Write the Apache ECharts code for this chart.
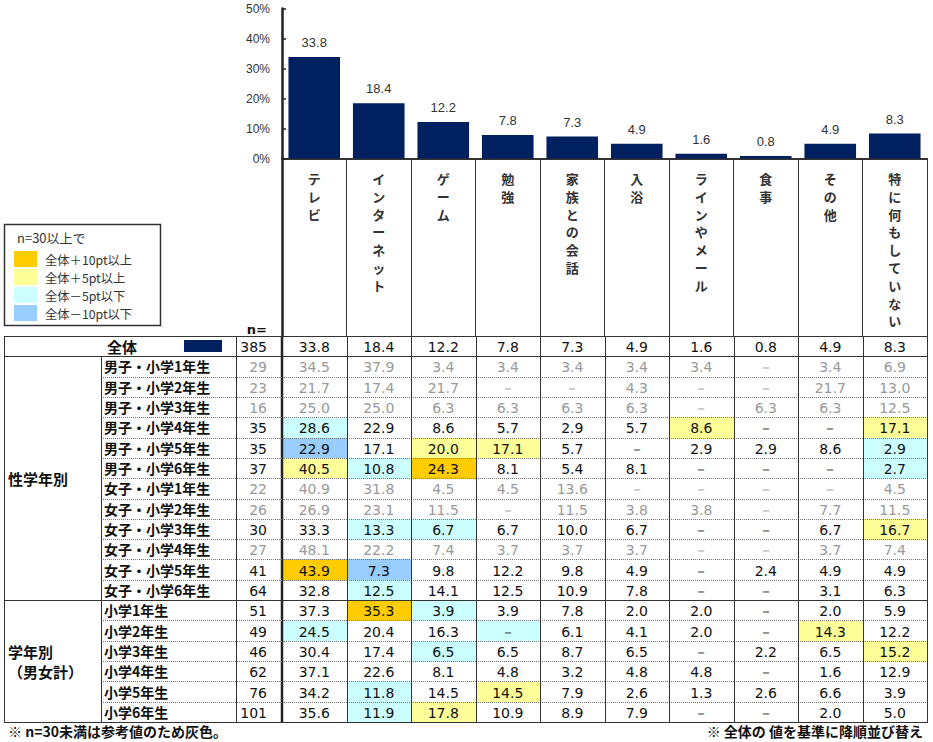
<!DOCTYPE html>
<html lang="ja">
<head>
<meta charset="utf-8">
<title>小学生の過ごし方</title>
<script src="https://cdn.jsdelivr.net/npm/echarts@6/dist/echarts.min.js"></script>
<style>
  html, body { margin: 0; padding: 0; background: #fff; }
  #chart { width: 933px; height: 742px; }
</style>
</head>
<body>
<div id="chart"></div>
<script>
// 項目（全体の値で降順）
const categories = ['テレビ', 'インターネット', 'ゲーム', '勉強', '家族との会話', '入浴', 'ラインやメール', '食事', 'その他', '特に何もしていない'];

const totalLabel = '全体';
const totalN = 385;
const totalValues = [33.8, 18.4, 12.2, 7.8, 7.3, 4.9, 1.6, 0.8, 4.9, 8.3];

const genderGradeLabels = ['男子・小学1年生', '男子・小学2年生', '男子・小学3年生', '男子・小学4年生', '男子・小学5年生', '男子・小学6年生',
  '女子・小学1年生', '女子・小学2年生', '女子・小学3年生', '女子・小学4年生', '女子・小学5年生', '女子・小学6年生'];
const genderGradeN = [29, 23, 16, 35, 35, 37, 22, 26, 30, 27, 41, 64];
const genderGradeValues = [
  [34.5, 37.9, 3.4, 3.4, 3.4, 3.4, 3.4, null, 3.4, 6.9],
  [21.7, 17.4, 21.7, null, null, 4.3, null, null, 21.7, 13.0],
  [25.0, 25.0, 6.3, 6.3, 6.3, 6.3, null, 6.3, 6.3, 12.5],
  [28.6, 22.9, 8.6, 5.7, 2.9, 5.7, 8.6, null, null, 17.1],
  [22.9, 17.1, 20.0, 17.1, 5.7, null, 2.9, 2.9, 8.6, 2.9],
  [40.5, 10.8, 24.3, 8.1, 5.4, 8.1, null, null, null, 2.7],
  [40.9, 31.8, 4.5, 4.5, 13.6, null, null, null, null, 4.5],
  [26.9, 23.1, 11.5, null, 11.5, 3.8, 3.8, null, 7.7, 11.5],
  [33.3, 13.3, 6.7, 6.7, 10.0, 6.7, null, null, 6.7, 16.7],
  [48.1, 22.2, 7.4, 3.7, 3.7, 3.7, null, null, 3.7, 7.4],
  [43.9, 7.3, 9.8, 12.2, 9.8, 4.9, null, 2.4, 4.9, 4.9],
  [32.8, 12.5, 14.1, 12.5, 10.9, 7.8, null, null, 3.1, 6.3]
];

const gradeLabels = ['小学1年生', '小学2年生', '小学3年生', '小学4年生', '小学5年生', '小学6年生'];
const gradeN = [51, 49, 46, 62, 76, 101];
const gradeValues = [
  [37.3, 35.3, 3.9, 3.9, 7.8, 2.0, 2.0, null, 2.0, 5.9],
  [24.5, 20.4, 16.3, null, 6.1, 4.1, 2.0, null, 14.3, 12.2],
  [30.4, 17.4, 6.5, 6.5, 8.7, 6.5, null, 2.2, 6.5, 15.2],
  [37.1, 22.6, 8.1, 4.8, 3.2, 4.8, 4.8, null, 1.6, 12.9],
  [34.2, 11.8, 14.5, 14.5, 7.9, 2.6, 1.3, 2.6, 6.6, 3.9],
  [35.6, 11.9, 17.8, 10.9, 8.9, 7.9, null, null, 2.0, 5.0]
];

const groupNames = ['性学年別', '学年別\n（男女計）'];
const legendTitle = 'n=30以上で';
const legendLabels = ['全体＋10pt以上', '全体＋5pt以上', '全体－5pt以下', '全体－10pt以下'];
const noteLeft = '※ n=30未満は参考値のため灰色。';
const noteRight = '※ 全体の 値を基準に降順並び替え';

// 見た目
const JP = '"Noto Sans CJK JP", sans-serif';
const NUM = '"DejaVu Sans", sans-serif';
const BAR_COLOR = '#002060';
const LINE = '#333';
const HIGHLIGHT = ['#FFCC00', '#FFFF99', '#CCFFFF', '#99CCFF'];
const LEFT_COLS = [0, 97, 232, 278]; // 区分 | 属性 | n= の境界（左表の内部単位）

function highlight(n, v, base) {
  if (n < 30) return null;
  const d = Math.round(((v || 0) - base) * 10) / 10;
  if (d >= 10) return HIGHLIGHT[0];
  if (d >= 5) return HIGHLIGHT[1];
  if (d <= -10) return HIGHLIGHT[3];
  if (d <= -5) return HIGHLIGHT[2];
  return null;
}

// 行をまとめる
const rows = [{ label: totalLabel, n: totalN, values: totalValues, group: -1 }];
genderGradeLabels.forEach((l, i) => rows.push({ label: l, n: genderGradeN[i], values: genderGradeValues[i], group: 0 }));
gradeLabels.forEach((l, i) => rows.push({ label: l, n: gradeN[i], values: gradeValues[i], group: 1 }));
rows.forEach((row, r) => {
  const next = rows[r + 1];
  row.solidBottom = !next || next.group !== row.group;
  row.gray = row.group >= 0 && row.n < 30;
});
const rowNames = rows.map(r => r.label);

const cellData = [];
const cellInfo = [];
rows.forEach((row, r) => {
  row.values.forEach((v, c) => {
    cellData.push([c, r]);
    cellInfo.push({
      text: v == null ? '－' : v.toFixed(1),
      bg: row.group >= 0 ? highlight(row.n, v, totalValues[c]) : null,
      color: row.gray ? '#999' : '#111',
      row: row
    });
  });
});

const groupData = [];
let start = 1;
groupNames.forEach((name, g) => {
  const size = rows.filter(r => r.group === g).length;
  groupData.push([0, start, start + size - 1]);
  start += size;
});

function line(x1, y1, x2, y2, stroke, width, dash) {
  return { type: 'line', shape: { x1, y1, x2, y2 }, style: { stroke, lineWidth: width, lineDash: dash || null } };
}
const DOT = [1, 1];

function cellBox(api) {
  const c = api.coord([api.value(0), api.value(1)]);
  const s = api.size([1, 1]);
  return {
    xL: Math.round(c[0] - s[0] / 2), xR: Math.round(c[0] + s[0] / 2),
    yT: Math.round(c[1] - s[1] / 2), yB: Math.round(c[1] + s[1] / 2),
    cx: c[0], cy: c[1]
  };
}

function renderCellBg(params, api) {
  const info = cellInfo[params.dataIndex];
  if (!info.bg) return null;
  const b = cellBox(api);
  return { type: 'rect', shape: { x: b.xL, y: b.yT, width: b.xR - b.xL, height: b.yB - b.yT + 1 }, style: { fill: info.bg } };
}

function renderCell(params, api) {
  const info = cellInfo[params.dataIndex];
  const b = cellBox(api);
  const col = api.value(0);
  const children = [
    { type: 'text', x: b.cx, y: b.cy + 1, style: { text: info.text, fill: info.color, fontSize: 14, fontFamily: NUM, align: 'center', verticalAlign: 'middle' } },
    info.row.solidBottom
      ? line(b.xL, b.yB + 0.5, b.xR, b.yB + 0.5, LINE, 1)
      : line(b.xL, b.yB + 0.5, b.xR, b.yB + 0.5, '#777', 1, DOT),
    line(b.xR + 0.5, b.yT, b.xR + 0.5, b.yB + 1, LINE, 1)
  ];
  if (info.row.group < 0) children.push(line(b.xL, b.yT + 0.5, b.xR + 1, b.yT + 0.5, LINE, 1));
  if (col === 0) children.push(line(b.xL, b.yT, b.xL, b.yB + 1, '#222', 2.5));
  return { type: 'group', children };
}

function renderRowHead(params, api) {
  const r = api.value(1);
  const row = rows[r];
  const c = api.coord([0, r]);
  const h = api.size([0, 1])[1];
  const X = u => api.coord([u, r])[0];
  const yT = Math.round(c[1] - h / 2), yB = Math.round(c[1] + h / 2);
  const cy = c[1] + 1;
  const fill = row.gray ? '#999' : '#111';
  const children = [];
  if (row.group < 0) {
    children.push({ type: 'text', x: X(103), y: cy - 1, style: { text: row.label, fill: '#111', fontSize: 15, fontWeight: 'bold', fontFamily: JP, align: 'left', verticalAlign: 'middle' } });
    children.push({ type: 'rect', shape: { x: X(180), y: Math.round(c[1] - 6), width: 38, height: 12 }, style: { fill: BAR_COLOR } });
    children.push(line(X(0), yT + 0.5, X(278), yT + 0.5, LINE, 1));
    children.push(line(X(0), yB + 0.5, X(278), yB + 0.5, LINE, 1));
  } else {
    children.push({ type: 'text', x: X(100), y: cy - 1, style: { text: row.label, fill: '#111', fontSize: 14, fontWeight: 'bold', fontFamily: JP, align: 'left', verticalAlign: 'middle' } });
    children.push(row.solidBottom
      ? line(X(0), yB + 0.5, X(278), yB + 0.5, LINE, 1)
      : line(X(LEFT_COLS[1]), yB + 0.5, X(278), yB + 0.5, '#777', 1, DOT));
    children.push(line(X(LEFT_COLS[1]) + 0.5, yT, X(LEFT_COLS[1]) + 0.5, yB + 1, LINE, 1));
  }
  children.push({ type: 'text', x: X(263), y: cy, style: { text: String(row.n), fill: row.group < 0 ? '#111' : fill, fontSize: 14, fontFamily: NUM, align: 'right', verticalAlign: 'middle' } });
  children.push(line(X(0) + 0.5, yT, X(0) + 0.5, yB + 1, LINE, 1));
  children.push(line(X(LEFT_COLS[2]) + 0.5, yT, X(LEFT_COLS[2]) + 0.5, yB + 1, LINE, 1));
  return { type: 'group', children };
}

function renderGroup(params, api) {
  const h = api.size([0, 1])[1];
  const y1 = api.coord([0, api.value(1)])[1] - h / 2;
  const y2 = api.coord([0, api.value(2)])[1] + h / 2;
  const x = api.coord([4, api.value(1)])[0];
  return {
    type: 'text', x, y: (y1 + y2) / 2,
    style: { text: groupNames[params.dataIndex], fill: '#111', fontSize: 15, fontWeight: 'bold', fontFamily: JP, lineHeight: 20, align: 'left', verticalAlign: 'middle' }
  };
}

const legendItems = [];
legendLabels.forEach((label, i) => {
  legendItems.push({ type: 'rect', shape: { x: 14, y: 251 + i * 18, width: 23, height: 16 }, style: { fill: HIGHLIGHT[i] } });
  legendItems.push({ type: 'text', x: 45, y: 259.5 + i * 18, style: { text: label, fill: '#333', fontSize: 12.3, fontFamily: JP, verticalAlign: 'middle' } });
});

const chart = echarts.init(document.getElementById('chart'), null, { renderer: 'svg' });
chart.setOption({
  animation: false,
  grid: [
    { left: 282, right: 6, top: 8.5, height: 150 },
    { left: 282, right: 6, top: 158, height: 178 },
    { left: 282, right: 6, top: 336, bottom: 20 },
    { left: 4, width: 278, top: 336, bottom: 20 }
  ],
  xAxis: [
    {
      gridIndex: 0, type: 'category', data: categories,
      axisLine: { lineStyle: { color: '#333', width: 2 } },
      axisTick: { show: false },
      axisLabel: {
        interval: 0, margin: 11, color: '#333', fontSize: 13, fontWeight: 'bold', fontFamily: JP, lineHeight: 17.8,
        formatter: v => v.split('').join('\n')
      }
    },
    {
      gridIndex: 1, type: 'category', data: categories,
      axisLine: { show: false }, axisTick: { show: false }, axisLabel: { show: false, interval: 0 },
      splitLine: { show: true, interval: 0, lineStyle: { color: LINE, width: 1 } }
    },
    { gridIndex: 2, type: 'category', data: categories, show: false },
    { gridIndex: 3, type: 'value', min: LEFT_COLS[0], max: LEFT_COLS[3], show: false }
  ],
  yAxis: [
    {
      gridIndex: 0, type: 'value', min: 0, max: 50, interval: 10,
      axisLine: { show: true, lineStyle: { color: '#222', width: 2.5 } },
      axisTick: { show: true, inside: true, length: 4, lineStyle: { color: '#222', width: 1.5 } },
      splitLine: { show: false },
      axisLabel: { formatter: '{value}%', color: '#333', fontSize: 12, fontFamily: '"Liberation Sans", sans-serif', margin: 12 }
    },
    {
      gridIndex: 1, type: 'value', min: 0, max: 1,
      axisLine: { show: true, lineStyle: { color: '#222', width: 2.5 } },
      axisTick: { show: false }, axisLabel: { show: false }, splitLine: { show: false }
    },
    { gridIndex: 2, type: 'category', data: rowNames, inverse: true, show: false },
    { gridIndex: 3, type: 'category', data: rowNames, inverse: true, show: false }
  ],
  series: [
    {
      type: 'bar', xAxisIndex: 0, yAxisIndex: 0, data: totalValues,
      barCategoryGap: '20%',
      itemStyle: { color: BAR_COLOR },
      label: {
        show: true, position: 'top', distance: 8, color: '#333', fontSize: 13,
        fontFamily: '"Liberation Sans", sans-serif', formatter: p => p.value.toFixed(1)
      }
    },
    { type: 'custom', xAxisIndex: 2, yAxisIndex: 2, data: cellData, encode: { x: 0, y: 1 }, z: 2, silent: true, renderItem: renderCellBg },
    { type: 'custom', xAxisIndex: 2, yAxisIndex: 2, data: cellData, encode: { x: 0, y: 1 }, z: 3, silent: true, renderItem: renderCell },
    { type: 'custom', xAxisIndex: 3, yAxisIndex: 3, data: rows.map((_, r) => [0, r]), encode: { x: 0, y: 1 }, z: 3, silent: true, renderItem: renderRowHead },
    { type: 'custom', xAxisIndex: 3, yAxisIndex: 3, data: groupData, encode: { x: 0, y: 1 }, z: 3, silent: true, renderItem: renderGroup }
  ],
  graphic: [
    { type: 'rect', shape: { x: 4.5, y: 224.5, width: 156, height: 101 }, style: { fill: '#fff', stroke: '#333', lineWidth: 1.5 } },
    { type: 'text', x: 17, y: 237, style: { text: legendTitle, fill: '#333', fontSize: 13, fontFamily: JP, verticalAlign: 'middle' } },
    ...legendItems,
    { type: 'text', x: 267, y: 329, style: { text: 'n=', fill: '#111', fontSize: 13, fontWeight: 'bold', fontFamily: NUM, align: 'right', verticalAlign: 'middle' } },
    { type: 'text', x: 8, y: 731, style: { text: noteLeft, fill: '#111', fontSize: 14, fontWeight: 'bold', fontFamily: JP, verticalAlign: 'middle' } },
    { type: 'text', x: 923, y: 731, style: { text: noteRight, fill: '#111', fontSize: 14, fontWeight: 'bold', fontFamily: JP, align: 'right', verticalAlign: 'middle' } }
  ]
});
</script>
</body>
</html>
